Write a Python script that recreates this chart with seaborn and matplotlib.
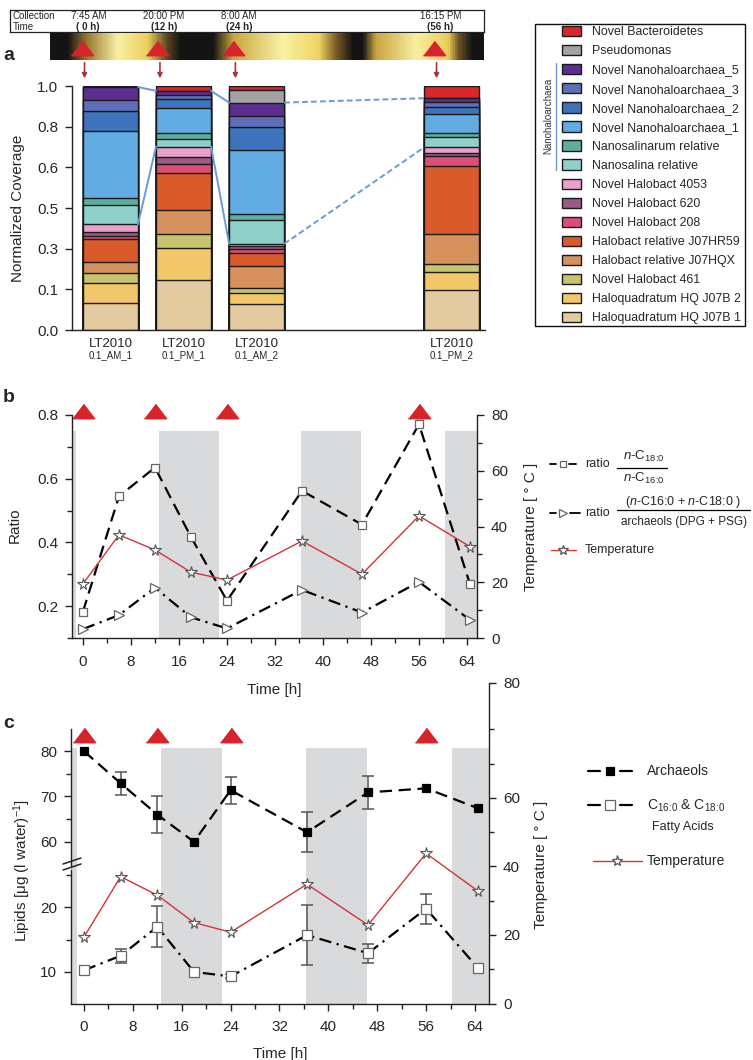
import numpy as np
import matplotlib
matplotlib.use('Agg')
import matplotlib.pyplot as plt
import matplotlib.transforms as mtransforms
from matplotlib.colors import LinearSegmentedColormap
from matplotlib.patches import Patch, Rectangle
from matplotlib.lines import Line2D
import seaborn as sns

# ---------------- panel a data ----------------
sample_names = ['0.1_AM_1', '0.1_PM_1', '0.1_AM_2', '0.1_PM_2']
sample_hours = [0, 12, 24, 56]
clock_times = ['7:45 AM', '20:00 PM', '8:00 AM', '16:15 PM']
clock_hours = ['( 0 h)', '(12 h)', '(24 h)', '(56 h)']

# bottom to top of the stacks
taxa = ['Haloquadratum HQ J07B 1', 'Haloquadratum HQ J07B 2', 'Novel Halobact 461',
        'Halobact relative J07HQX', 'Halobact relative J07HR59', 'Novel Halobact 208',
        'Novel Halobact 620', 'Novel Halobact 4053', 'Nanosalina relative',
        'Nanosalinarum relative', 'Novel Nanohaloarchaea_1', 'Novel Nanohaloarchaea_2',
        'Novel Nanohaloarchaea_3', 'Novel Nanohaloarchaea_5', 'Pseudomonas',
        'Novel Bacteroidetes']
taxa_colors = ['#e3caa0', '#f2c76a', '#c8c36e', '#d6915c', '#d95b2b', '#d94f78',
               '#9a5a82', '#eaa0cc', '#8fd0cb', '#5eae9f', '#62abe3', '#3f73bd',
               '#5f6fb7', '#5b2e8f', '#a3a3a3', '#d9262c']

cov_am_1 = [.109, .082, .043, .044, .093, .014, .018, .030, .078, .028, .275, .082, .045, .055, 0, .004]
cov_pm_1 = [.203, .134, .057, .099, .150, .037, .031, .041, .030, .025, .102, .038, .016, .017, 0, .020]
cov_am_2 = [.105, .048, .020, .089, .054, .016, .011, .010, .099, .023, .263, .096, .045, .053, .052, .016]
cov_pm_2 = [.162, .076, .033, .124, .278, .041, .011, .023, .045, .016, .075, .029, .020, .017, 0, .050]

# ---------------- panel b / c data ----------------
time_h = [0, 6, 12, 18, 24, 36.5, 46.5, 56, 64.5]
ratio_c18_c16 = [0.183, 0.545, 0.635, 0.417, 0.217, 0.562, 0.456, 0.771, 0.269]
ratio_fa_arch = [0.128, 0.172, 0.258, 0.165, 0.130, 0.251, 0.180, 0.276, 0.157]
temperature = [19.4, 37.0, 31.6, 23.6, 20.8, 34.8, 22.9, 43.8, 32.8]
archaeols = [80.0, 72.9, 66.0, 60.0, 71.4, 62.1, 70.9, 71.8, 67.4]
archaeols_err = [0, 2.6, 4.0, 0, 3.0, 4.4, 3.6, 0, 0]
fatty_acids = [10.25, 12.5, 17.0, 10.0, 9.3, 15.7, 12.9, 19.8, 10.6]
fatty_acids_err = [0, 1.1, 3.2, 0, 0.3, 4.6, 1.5, 2.3, 0]
night_start = [-4, 12.6, 36.4, 60.3]
night_end = [-1.2, 22.6, 46.4, 70]

# day / night strip (fraction along strip, colour)
strip_stops = [0, .038, .084, .154, .223, .269, .30, .376, .422, .537, .62, .66, .699,
               .722, .753, .845, .92, .945, .976, 1]
strip_cols = ['#141414', '#141414', '#9a7a30', '#f8f0a4', '#eccf5c', '#5a4420', '#141414',
              '#141414', '#c9a640', '#faf2a6', '#efd462', '#7a5c26', '#141414', '#141414',
              '#c9a640', '#f8eea2', '#eccd5c', '#6a5024', '#141414', '#141414']

# ---------------- style ----------------
sns.set_style('ticks')
plt.rcParams['font.family'] = ['Liberation Sans', 'DejaVu Sans']
plt.rcParams['mathtext.fontset'] = 'custom'
plt.rcParams['mathtext.rm'] = 'Liberation Sans'
plt.rcParams['mathtext.it'] = 'Liberation Sans:italic'
plt.rcParams['axes.linewidth'] = 1.0
plt.rcParams['axes.edgecolor'] = '#222222'

W, H = 753, 1060


def fx(x):
    return x / W


def fy(y):
    return 1 - y / H


def box(x0, y0, x1, y1):
    return [x0 / W, 1 - y1 / H, (x1 - x0) / W, (y1 - y0) / H]


def ticks(ax):
    ax.tick_params(which='major', length=5, width=1, color='#222222', labelsize=11, pad=5)
    ax.tick_params(which='minor', length=3.5, width=1, color='#222222')
    ax.tick_params(axis='x', pad=7)


def key(y, segs, xm, color, lw, marker, ms, mfc, mec):
    for a, b in segs:
        fig.add_artist(Line2D([fx(a), fx(b)], [fy(y), fy(y)], transform=fig.transFigure,
                              color=color, lw=lw))
    fig.add_artist(Line2D([fx(xm)], [fy(y)], transform=fig.transFigure, ls='none',
                          marker=marker, ms=ms, mfc=mfc, mec=mec, mew=0.9))


fig = plt.figure(figsize=(7.53, 10.6), dpi=100)
red_tri = [(-1, -0.65), (1, -0.65), (0, 0.65)]
tri_red = '#d8232a'

# ---------------- panel a ----------------
strip_x = (-5.09, 63.95)
ax_box = fig.add_axes(box(10, 10, 484, 32))
ax_box.set_xlim(-11.45, 63.95)
ax_box.set_ylim(0, 1)
ax_box.set_xticks([])
ax_box.set_yticks([])
for s in ax_box.spines.values():
    s.set_visible(True)
    s.set_linewidth(0.9)
ax_box.text(0.006, 0.72, 'Collection', transform=ax_box.transAxes, fontsize=7, va='center')
ax_box.text(0.006, 0.22, 'Time', transform=ax_box.transAxes, fontsize=7, va='center')
for h, t1, t2 in zip(sample_hours, clock_times, clock_hours):
    ax_box.text(h + 1, 0.72, t1, fontsize=7, ha='center', va='center')
    ax_box.text(h + 1, 0.22, t2, fontsize=7, ha='center', va='center', fontweight='bold')

day_cmap = LinearSegmentedColormap.from_list('day', list(zip(strip_stops, strip_cols)))
ax_strip = fig.add_axes(box(50, 33, 484, 60))
ax_strip.imshow(np.linspace(0, 1, 600)[None, :], cmap=day_cmap, aspect='auto',
                extent=(strip_x[0], strip_x[1], 0, 1))
ax_strip.set_xlim(*strip_x)
ax_strip.set_ylim(0, 1)
ax_strip.axis('off')
ax_strip.plot(sample_hours, [0.43] * 4, ls='none', marker=red_tri, ms=16, color=tri_red)
tr_strip = mtransforms.blended_transform_factory(ax_strip.transData, ax_strip.transAxes)
for h in sample_hours:
    ax_strip.annotate('', xy=(h + 0.4, -0.68), xytext=(h + 0.4, -0.1), xycoords=tr_strip,
                      textcoords=tr_strip,
                      arrowprops=dict(arrowstyle='-|>', color='#a8363c', lw=1.2,
                                      mutation_scale=7, shrinkA=0, shrinkB=0))

ax_a = fig.add_axes(box(72, 86, 485, 330))
cov = np.array([cov_am_1, cov_pm_1, cov_am_2, cov_pm_2]).T
cum = cov.cumsum(axis=0)
bar_w = 0.753
for i in range(len(taxa) - 1, -1, -1):
    sns.barplot(x=sample_hours, y=cum[i], ax=ax_a, color=taxa_colors[i], saturation=1,
                native_scale=True, width=bar_w, errorbar=None, edgecolor='#1a1a1a',
                linewidth=1.0)
half = bar_w * 12 / 2
for j in range(3):
    ls = '-' if j < 2 else (0, (3, 1.6))
    for lev in (cum[7], cum[13]):
        ax_a.plot([sample_hours[j] + half, sample_hours[j + 1] - half], [lev[j], lev[j + 1]],
                  color='#6a9bd8', lw=1.4, ls=ls, zorder=5)
ax_a.set_xlim(-6.32, 61.5)
ax_a.set_ylim(0, 1)
yt = np.arange(7) / 6
ax_a.set_yticks(yt)
ax_a.set_yticklabels([f'{np.floor(v * 10 + 1e-9) / 10:.1f}' for v in yt])
ax_a.set_xticks(sample_hours)
ax_a.set_xticklabels(['LT2010'] * 4, fontsize=9.5)
ticks(ax_a)
ax_a.tick_params(axis='x', length=0, pad=6, labelsize=9.5)
ax_a.set_xlabel('')
ax_a.set_ylabel('')
sns.despine(ax=ax_a)
for h, name in zip(sample_hours, sample_names):
    ax_a.annotate(name, xy=(h, 0), xycoords=mtransforms.blended_transform_factory(
        ax_a.transData, ax_a.transAxes), xytext=(0, -18), textcoords='offset points',
        ha='center', va='center', fontsize=7)
fig.text(fx(18), fy(208), 'Normalized Coverage', rotation=90, ha='center', va='center',
         fontsize=11)

# legend for panel a
handles = [Patch(facecolor=c, edgecolor='#1a1a1a', lw=1) for c in taxa_colors[::-1]]
fig.legend(handles, taxa[::-1], loc='upper left', bbox_to_anchor=(fx(562), fy(26)),
           frameon=False, fontsize=8.9, handlelength=1.55, handleheight=0.9,
           handletextpad=0.85, labelspacing=0.54, borderpad=0, borderaxespad=0)
fig.add_artist(Rectangle((fx(535), fy(326)), (745 - 535) / W, (326 - 24) / H,
                         transform=fig.transFigure, fill=False, ec='#111111', lw=1))
fig.add_artist(Line2D([fx(556), fx(556)], [fy(63), fy(170)], transform=fig.transFigure,
                      color='#6a9bd8', lw=1))
fig.text(fx(548), fy(116), 'Nanohaloarchaea', rotation=90, ha='center', va='center',
         fontsize=7, color='#333344')

# ---------------- panel b ----------------
ax_b = fig.add_axes(box(72, 415, 477, 638))
ax_bt = ax_b.twinx()
for s, e in zip(night_start, night_end):
    ax_b.axvspan(s, e, ymin=0, ymax=0.928, color='#d9dadc', lw=0, zorder=0)
dash = (0, (5.5, 3))
dashdot = (0, (5.5, 2.5, 1, 2.5))
sns.lineplot(x=time_h, y=ratio_c18_c16, ax=ax_b, color='black', lw=1.6, linestyle=dash,
             marker='s', ms=6, mfc='white', mec='#666666', mew=0.9, zorder=3)
sns.lineplot(x=time_h, y=ratio_fa_arch, ax=ax_b, color='black', lw=1.6, linestyle=dashdot,
             marker='>', ms=7, mfc='white', mec='#666666', mew=0.9, zorder=3)
sns.lineplot(x=time_h, y=temperature, ax=ax_bt, color='#d2343a', lw=1.0,
             marker='*', ms=8.5, mfc='white', mec='#555555', mew=0.8, zorder=3)
tr_b = mtransforms.blended_transform_factory(ax_b.transData, ax_b.transAxes)
ax_b.plot(sample_hours, [1.018] * 4, transform=tr_b, ls='none', marker=red_tri, ms=16,
          color=tri_red, clip_on=False)
ax_b.set_xlim(-1.83, 65.67)
ax_b.set_ylim(0.1, 0.8)
ax_b.set_yticks([0.2, 0.4, 0.6, 0.8])
ax_b.set_yticks([0.1, 0.3, 0.5, 0.7], minor=True)
ax_b.set_xticks(range(0, 65, 8))
ax_b.set_xticks(range(4, 65, 8), minor=True)
ax_bt.set_ylim(0, 80)
ax_bt.set_yticks([0, 20, 40, 60, 80])
ax_bt.set_yticks([10, 30, 50, 70], minor=True)
ticks(ax_b)
ticks(ax_bt)
ax_b.spines['top'].set_visible(False)
ax_b.spines['right'].set_visible(False)
for sp in ['top', 'left', 'bottom']:
    ax_bt.spines[sp].set_visible(False)
ax_b.set_xlabel('Time [h]', fontsize=11, labelpad=10)
ax_b.set_ylabel('')
ax_bt.set_ylabel('')
fig.text(fx(15), fy(525), 'Ratio', rotation=90, ha='center', va='center', fontsize=11)
fig.text(fx(531), fy(527), 'Temperature [ ° C ]', rotation=90, ha='center', va='center',
         fontsize=11)

# legend b
key(464, [(550, 556), (569, 576)], 563, 'black', 1.3, 's', 5, 'white', '#666666')
fig.text(fx(585), fy(464), 'ratio', fontsize=9, va='center')
fig.text(fx(644), fy(456), r'$n$-C$_{18\!:\!0}$', fontsize=9.5, va='center', ha='center')
fig.add_artist(Line2D([fx(617), fx(667)], [fy(468), fy(468)], transform=fig.transFigure,
                      color='black', lw=0.9))
fig.text(fx(644), fy(478), r'$n$-C$_{16\!:\!0}$', fontsize=9.5, va='center', ha='center')
key(513, [(550, 556), (570, 580)], 563, 'black', 1.3, '>', 6, 'white', '#666666')
fig.text(fx(585), fy(513), 'ratio', fontsize=9, va='center')
fig.text(fx(683), fy(502), r'($n$-C16:0 + $n$-C18:0 )', fontsize=9, va='center',
         ha='center')
fig.add_artist(Line2D([fx(617), fx(750)], [fy(510), fy(510)], transform=fig.transFigure,
                      color='black', lw=0.9))
fig.text(fx(684), fy(522), 'archaeols (DPG + PSG)', fontsize=8.5, va='center', ha='center')
key(550, [(551, 576)], 563, '#d2343a', 1.0, '*', 7, 'white', '#555555')
fig.text(fx(585), fy(550), 'Temperature', fontsize=9, va='center')

# ---------------- panel c ----------------
ax_ct = fig.add_axes(box(71, 683, 489, 1003.5))
ax_ct.set_facecolor('none')
for s, e in zip(night_start, night_end):
    ax_ct.axvspan(s, e, ymin=0, ymax=0.798, color='#d9dadc', lw=0, zorder=0)
sns.lineplot(x=time_h, y=temperature, ax=ax_ct, color='#d2343a', lw=1.0,
             marker='*', ms=8.5, mfc='white', mec='#555555', mew=0.8, zorder=3)
tr_c = mtransforms.blended_transform_factory(ax_ct.transData, ax_ct.transAxes)
ax_ct.plot(sample_hours, [0.838] * 4, transform=tr_c, ls='none', marker=red_tri, ms=16,
           color=tri_red, clip_on=False)
ax_ct.set_xlim(-2.13, 66.3)
ax_ct.set_ylim(0, 93.5)
ax_ct.set_xticks(range(0, 65, 8))
ax_ct.set_xticks(range(4, 65, 8), minor=True)
ax_ct.yaxis.tick_right()
ax_ct.set_yticks([0, 20, 40, 60, 93.5])
ax_ct.set_yticklabels(['0', '20', '40', '60', '80'])
ax_ct.set_yticks([10, 30, 50, 70, 80], minor=True)
ticks(ax_ct)
for sp in ['top', 'left']:
    ax_ct.spines[sp].set_visible(False)
ax_ct.set_xlabel('Time [h]', fontsize=11, labelpad=9)
ax_ct.set_ylabel('')

ax_cu = fig.add_axes(box(71, 729, 489, 866.7))
ax_cl = fig.add_axes(box(71, 870, 489, 1003.5))
for ax, y, err, mk, mfc, ls, lo, hi, maj, mnr in [
        (ax_cu, archaeols, archaeols_err, 's', 'black', dash, 54.5, 84.9, [60, 70, 80], [65, 75]),
        (ax_cl, fatty_acids, fatty_acids_err, 's', 'white', dashdot, 5.1, 25.8, [10, 20], [15, 25])]:
    ax.set_facecolor('none')
    xe = [t for t, e in zip(time_h, err) if e > 0]
    ye = [v for v, e in zip(y, err) if e > 0]
    ee = [e for e in err if e > 0]
    ax.errorbar(xe, ye, yerr=ee, fmt='none', ecolor='#555555', elinewidth=1.1, capsize=4,
                capthick=1.1, zorder=2)
    sns.lineplot(x=time_h, y=y, ax=ax, color='black', lw=1.6, linestyle=ls, marker=mk,
                 ms=7 if mfc == 'white' else 6, mfc=mfc,
                 mec='#666666' if mfc == 'white' else 'black', mew=0.9, zorder=3)
    ax.set_xlim(-2.13, 66.3)
    ax.set_ylim(lo, hi)
    ax.set_yticks(maj)
    ax.set_yticks(mnr, minor=True)
    ax.set_xticks([])
    ticks(ax)
    for sp in ['top', 'right', 'bottom']:
        ax.spines[sp].set_visible(False)
    ax.set_xlabel('')
    ax.set_ylabel('')
for yy in (864, 870):
    fig.add_artist(Line2D([fx(63), fx(81)], [fy(yy), fy(yy - 6)], transform=fig.transFigure,
                          color='#222222', lw=1.1))
fig.text(fx(22), fy(871), r'Lipids [μg (l water)$^{-1}$]', rotation=90, ha='center',
         va='center', fontsize=11)
fig.text(fx(541), fy(865), 'Temperature [ ° C ]', rotation=90, ha='center', va='center',
         fontsize=11)

# legend c
key(771, [(588, 600), (620, 632)], 610, 'black', 1.6, 's', 6, 'black', 'black')
fig.text(fx(647), fy(771), 'Archaeols', fontsize=10, va='center')
key(805, [(588, 600), (620, 632)], 610, 'black', 1.6, 's', 7, 'white', '#666666')
fig.text(fx(647), fy(806), r'C$_{16\!:\!0}$ & C$_{18\!:\!0}$', fontsize=10, va='center')
fig.text(fx(683), fy(827), 'Fatty Acids', fontsize=9, va='center', ha='center')
key(861, [(593, 642)], 617, '#d2343a', 1.0, '*', 8, 'white', '#555555')
fig.text(fx(647), fy(861), 'Temperature', fontsize=10, va='center')

# panel letters
fig.text(fx(3), fy(55), 'a', fontsize=14, fontweight='bold', va='center')
fig.text(fx(3), fy(397), 'b', fontsize=14, fontweight='bold', va='center')
fig.text(fx(3), fy(723), 'c', fontsize=14, fontweight='bold', va='center')

fig.savefig('out.png', dpi=100)
